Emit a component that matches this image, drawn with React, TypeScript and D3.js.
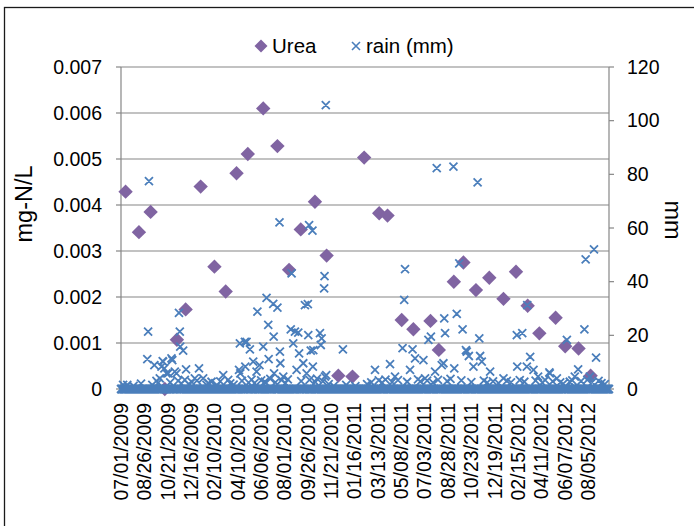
import React from 'react';
import * as d3 from 'd3';

// ---- data ----
const xTickLabels = [
  '07/01/2009', '08/26/2009', '10/21/2009', '12/16/2009', '02/10/2010', '04/10/2010',
  '06/06/2010', '08/01/2010', '09/26/2010', '11/21/2010', '01/16/2011', '03/13/2011',
  '05/08/2011', '07/03/2011', '08/28/2011', '10/23/2011', '12/19/2011', '02/15/2012',
  '04/11/2012', '06/07/2012', '08/05/2012',
];
const categoryCount = 1171; // sampling dates (category axis)
const labelEvery = 56;

const leftTicks = [0, 0.001, 0.002, 0.003, 0.004, 0.005, 0.006, 0.007];
const leftTickLabels = ['0', '0.001', '0.002', '0.003', '0.004', '0.005', '0.006', '0.007'];
const rightTicks = [0, 20, 40, 60, 80, 100, 120];

// Urea (mg-N/L) at category index
const ureaIndex = [11, 43, 71, 105, 134, 155, 191, 224, 251, 277, 304, 341, 375, 403, 431, 465, 493, 521, 555,
  583, 619, 639, 673, 701, 742, 762, 798, 821, 851, 883, 917, 947, 975, 1003, 1042, 1065, 1097, 1126];
const ureaValue = [0.00429, 0.00341, 0.00385, 0.0, 0.00107, 0.00173, 0.0044, 0.00266, 0.00212, 0.00469, 0.00511,
  0.0061, 0.00528, 0.00259, 0.00347, 0.00407, 0.0029, 0.00029, 0.00027, 0.00503, 0.00382, 0.00377, 0.0015,
  0.0013, 0.00148, 0.00085, 0.00233, 0.00275, 0.00215, 0.00242, 0.00196, 0.00255, 0.00181, 0.00121, 0.00155,
  0.00093, 0.00088, 0.00029];

// rain (mm) on wet days, [category index, mm]; all other days recorded 0 mm
const rainWetDays: [number, number][] = [
  [67, 77.5], [491, 105.8], [380, 62.1], [451, 61.1], [459, 59], [757, 82.3], [797, 82.9], [855, 77],
  [1134, 52], [1114, 48.3], [681, 44.7], [679, 33.2], [811, 46.8], [974, 31.3],
  [65, 21.4], [139, 28.4], [141, 21.4], [142, 15.8], [149, 14.3], [63, 11.1], [80, 8.9], [100, 10.4],
  [104, 7.7], [123, 10.8], [113, 5.8], [133, 5.8], [156, 7.3], [187, 7.7], [177, 4], [197, 4], [245, 5.2],
  [283, 7.1], [285, 17], [93, 4], [89, 2.3], [153, 3.4], [217, 2.7], [5, 1.5], [15, 1.5], [257, 3.4],
  [409, 43.1], [488, 42.1], [487, 37.5], [349, 34], [365, 31.7], [375, 30.3], [327, 28.8], [441, 31.3],
  [448, 31.6], [353, 23.9], [366, 19.5], [407, 22.2], [425, 21], [449, 20.1], [477, 20.8], [417, 21.4],
  [297, 17.6], [309, 14.8], [341, 15.8], [381, 13.9], [413, 17], [427, 13.3], [455, 14.3], [479, 16.4],
  [481, 18.9], [532, 14.8], [317, 10.2], [354, 11.1], [382, 9.6], [421, 7.1], [437, 9.6], [460, 8.3],
  [325, 6.5], [367, 5.8], [389, 4.6], [445, 5.8], [489, 4.6], [286, 5.8], [298, 8.3],
  [775, 26.3], [805, 28], [777, 20.8], [819, 22.2], [859, 18.9], [737, 18.3], [743, 19.5], [675, 15.2],
  [699, 14.8], [645, 9.3], [705, 11.4], [725, 10.8], [827, 14.5], [834, 12.3], [861, 12.3], [865, 10.2],
  [609, 7.1], [693, 7.1], [773, 9.6], [799, 7.7], [845, 8.3], [753, 6.5], [657, 4.6], [729, 4], [885, 6.5],
  [829, 13.9], [769, 8.9],
  [949, 20.1], [962, 20.8], [1069, 18.3], [1111, 22.2], [1139, 11.7], [981, 12], [950, 8.3], [973, 8.3],
  [989, 7.1], [1027, 6.2], [1096, 7.3], [1045, 4], [1088, 4.6], [917, 4], [1000, 4.6], [1124, 4.6], [1028, 5.8],
  [101, 10.2], [121, 11.4], [97, 8.3], [109, 5.8], [129, 6.5], [301, 17.6], [332, 8.9], [461, 14.5], [492, 5.2],
  [30, 1.2], [48, 2], [75, 1.5], [85, 3], [118, 2.5], [137, 3], [145, 2], [162, 1.8], [170, 2.6], [182, 3.1],
  [205, 1.5], [210, 2.2], [230, 1.4], [238, 2.8], [262, 2.1], [270, 1.6], [290, 3], [306, 2.4], [313, 3.5],
  [320, 2.2], [336, 3.2], [345, 2.7], [358, 3.8], [370, 2.5], [385, 3.3], [394, 2.2], [400, 3.6], [432, 2.9],
  [452, 3.4], [466, 2.6], [470, 3.9], [484, 2.8], [498, 1.8], [510, 1.2], [540, 1.5], [562, 1.1], [590, 1.8],
  [600, 2.5], [618, 3.2], [626, 2.4], [634, 3.5], [650, 2.6], [664, 3.3], [686, 2.7], [712, 3.6], [718, 2.8],
  [734, 3.1], [748, 2.4], [760, 3.4], [782, 2.9], [790, 3.8], [816, 3.2], [840, 2.6], [870, 3.1], [878, 2.4],
  [892, 2.8], [905, 2.2], [925, 3], [935, 2.5], [956, 3.3], [967, 2.7], [994, 3.1], [1010, 2.4], [1017, 3.3],
  [1035, 2.8], [1053, 2.5], [1060, 1.9], [1076, 2.7], [1082, 3.2], [1103, 2.9], [1118, 3.4], [1130, 2.6],
  [1145, 3], [1152, 2.2], [1160, 1.8],
];

const UREA = '#8064a2';
const RAIN = '#4a7ebb';
const GRID = '#868686';
const FONT = 'Liberation Sans, Arial, sans-serif';

export default function App() {
  const W = 694, H = 526;
  const L = 121, R = 609, T = 67, B = 389;
  const x = d3.scaleLinear().domain([0, categoryCount - 1]).range([L, R]);
  const yL = d3.scaleLinear().domain([0, 0.007]).range([B, T]);
  const yR = d3.scaleLinear().domain([0, 120]).range([B, T]);

  const rainByIndex = new Map<number, number>(rainWetDays.map(([i, v]) => [i, v]));
  const rainSeries = d3.range(categoryCount).map((i) => [i, rainByIndex.get(i) ?? 0] as [number, number]);

  const xs = 4;
  const rainPath = rainSeries
    .map(([i, v]) => {
      const cx = x(i), cy = yR(v);
      return `M${cx - xs},${cy - xs}L${cx + xs},${cy + xs}M${cx - xs},${cy + xs}L${cx + xs},${cy - xs}`;
    })
    .join('');

  const ds = 7.2;
  const diamond = (cx: number, cy: number, s: number) =>
    `M${cx},${cy - s}L${cx + s},${cy}L${cx},${cy + s}L${cx - s},${cy}Z`;

  return (
    <svg width={W} height={H} style={{ position: 'absolute', left: 0, top: 0, background: '#fff' }}
      fontFamily={FONT}>
      <rect x={0} y={0} width={W} height={H} fill="#fff" />
      <rect x={4.5} y={7.5} width={W + 10} height={H + 10} fill="none" stroke="#1a1a1a" strokeWidth={1.3} />

      {/* gridlines */}
      {leftTicks.slice(1).map((t) => (
        <line key={'g' + t} x1={L} x2={R} y1={yL(t)} y2={yL(t)} stroke={GRID} strokeWidth={1.2} />
      ))}
      {/* axes */}
      <line x1={L} x2={L} y1={T} y2={B} stroke={GRID} strokeWidth={1.2} />
      <line x1={R} x2={R} y1={T} y2={B} stroke={GRID} strokeWidth={1.2} />
      <line x1={L} x2={R} y1={B} y2={B} stroke={GRID} strokeWidth={1.2} />
      {leftTicks.map((t) => (
        <line key={'lt' + t} x1={L - 5} x2={L} y1={yL(t)} y2={yL(t)} stroke={GRID} strokeWidth={1.2} />
      ))}
      {rightTicks.map((t) => (
        <line key={'rt' + t} x1={R} x2={R + 5} y1={yR(t)} y2={yR(t)} stroke={GRID} strokeWidth={1.2} />
      ))}

      {/* left tick labels */}
      {leftTicks.map((t, k) => (
        <text key={'ll' + t} x={102} y={yL(t)} dy="0.35em" textAnchor="end" fontSize={19.5} fill="#000">
          {leftTickLabels[k]}
        </text>
      ))}
      {/* right tick labels */}
      {rightTicks.map((t) => (
        <text key={'rl' + t} x={627} y={yR(t)} dy="0.35em" textAnchor="start" fontSize={19.5} fill="#000">
          {t}
        </text>
      ))}
      {/* x labels */}
      {xTickLabels.map((lab, k) => {
        const px = x(k * labelEvery);
        return (
          <text key={'xl' + lab} transform={`translate(${px},403) rotate(-90)`} dy="0.35em"
            textAnchor="end" fontSize={19.5} fill="#000">
            {lab}
          </text>
        );
      })}

      {/* axis titles */}
      <text transform="translate(24,204) rotate(-90)" dy="0.35em" textAnchor="middle" fontSize={23.5} fill="#000">
        mg-N/L
      </text>
      <text transform="translate(673,220) rotate(90)" dy="0.35em" textAnchor="middle" fontSize={23.5} fill="#000">
        mm
      </text>

      {/* urea series */}
      {ureaIndex.map((i, k) => (
        <path key={'u' + k} d={diamond(x(i), yL(ureaValue[k]), ds)} fill={UREA} />
      ))}
      {/* rain series */}
      <path d={rainPath} fill="none" stroke={RAIN} strokeWidth={1.8} />

      {/* legend */}
      <path d={diamond(261, 46, 6.5)} fill={UREA} />
      <text x={272} y={46} dy="0.35em" fontSize={20.5} fill="#000">Urea</text>
      <path d={`M352,42L360,50M352,50L360,42`} stroke={RAIN} strokeWidth={1.6} />
      <text x={366} y={46} dy="0.35em" fontSize={20.5} fill="#000">rain (mm)</text>
    </svg>
  );
}
